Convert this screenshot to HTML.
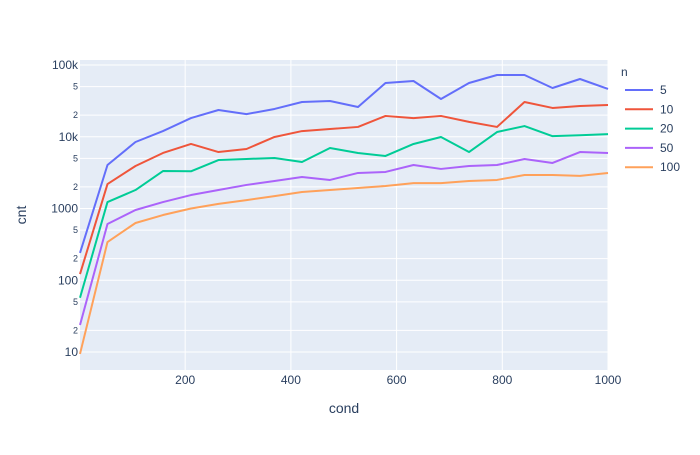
<!DOCTYPE html>
<html><head><meta charset="utf-8"><style>
body{margin:0;background:#fff;}
svg text{font-family:"Liberation Sans",sans-serif;fill:#2a3f5f;}
</style></head><body>
<svg id="chart" width="700" height="450" xmlns="http://www.w3.org/2000/svg"></svg>
<script>
const xValues=[1,53,106,158,211,263,316,369,421,474,527,579,632,684,737,790,842,895,947,1000];
const seriesNames=['5','10','20','50','100'];
const seriesColors=['#636efa','#EF553B','#00cc96','#ab63fa','#FFA15A'];
const s5=[240,4040,8450,12000,18200,23600,20700,24400,30500,31500,26000,56100,59800,33600,56100,72600,72600,47800,63800,46300];
const s10=[122,2190,3910,5940,7930,6120,6750,9930,12000,12800,13700,19500,18200,19500,16100,13700,30500,25200,26800,27700];
const s20=[57,1230,1810,3330,3300,4740,4900,5060,4450,6970,5940,5400,7930,9930,6120,11640,14100,10200,10500,10900];
const s50=[23.8,608,953,1230,1540,1810,2130,2420,2750,2500,3130,3230,4040,3560,3910,4040,4900,4310,6120,5940];
const s100=[9.4,341,628,811,1000,1160,1310,1490,1700,1810,1930,2060,2260,2260,2420,2500,2930,2930,2850,3130];
const allSeries=[s5,s10,s20,s50,s100];
const xTicks=[200,400,600,800,1000];
const yMajor=[10,100,1000,10000,100000];
const yMajorLabels=['10','100','1000','10k','100k'];
const yMinor=[20,50,200,500,2000,5000,20000,50000];

const L=80,R=608,T=60,B=370;
const xs=v=>L+(v-1)/(999)*(R-L);
const ys=v=>65+(5-Math.log10(v))*71.75;
const svg=document.getElementById('chart');
const NS='http://www.w3.org/2000/svg';
function mk(tag,attrs,parent){const e=document.createElementNS(NS,tag);for(const k in attrs)e.setAttribute(k,attrs[k]);(parent||svg).appendChild(e);return e;}
const bg=mk('rect',{x:L,y:T,width:R-L,height:B-T,fill:'#e5ecf6'});


xTicks.forEach(t=>{
  const g=mk('line',{x1:xs(t),x2:xs(t),y1:T,y2:B,stroke:'#fff','stroke-width':1});
  
  
  const tx=mk('text',{x:xs(t),y:B+14+0,'text-anchor':'middle','font-size':12});
  tx.textContent=t;
  
  
});
yMinor.forEach(v=>{
  const g=mk('line',{x1:L,x2:R,y1:ys(v),y2:ys(v),stroke:'#fff','stroke-width':1});
  
  
  const tx=mk('text',{x:L-2,y:ys(v)+3,'text-anchor':'end','font-size':9});
  tx.textContent=String(v)[0];
  
  
});
yMajor.forEach((v,i)=>{
  const g=mk('line',{x1:L,x2:R,y1:ys(v),y2:ys(v),stroke:'#fff','stroke-width':1});
  
  
  const tx=mk('text',{x:L-2,y:ys(v)+4,'text-anchor':'end','font-size':12});
  tx.textContent=yMajorLabels[i];
  
  
});
allSeries.forEach((s,i)=>{
  const p=mk('polyline',{points:s.map((v,j)=>xs(xValues[j])+','+ys(v)).join(' '),fill:'none',stroke:seriesColors[i],'stroke-width':2,'stroke-linejoin':'round'});
  
  
});
const xt=mk('text',{x:344,y:413,'text-anchor':'middle','font-size':14});
xt.textContent='cond';


const yt=mk('text',{x:26,y:215,'text-anchor':'middle','font-size':14,transform:'rotate(-90 26 215)'});
yt.textContent='cnt';


const lt=mk('text',{x:621,y:76,'font-size':12});
lt.textContent='n';


seriesNames.forEach((n,i)=>{
  const y=90+i*19.3;
  const g=mk('g',{});
  
  
  mk('line',{x1:625,x2:653,y1:y,y2:y,stroke:seriesColors[i],'stroke-width':2},g);
  const t=mk('text',{x:660,y:y+4,'font-size':12},g);
  t.textContent=n;
});
</script>
</body></html>
